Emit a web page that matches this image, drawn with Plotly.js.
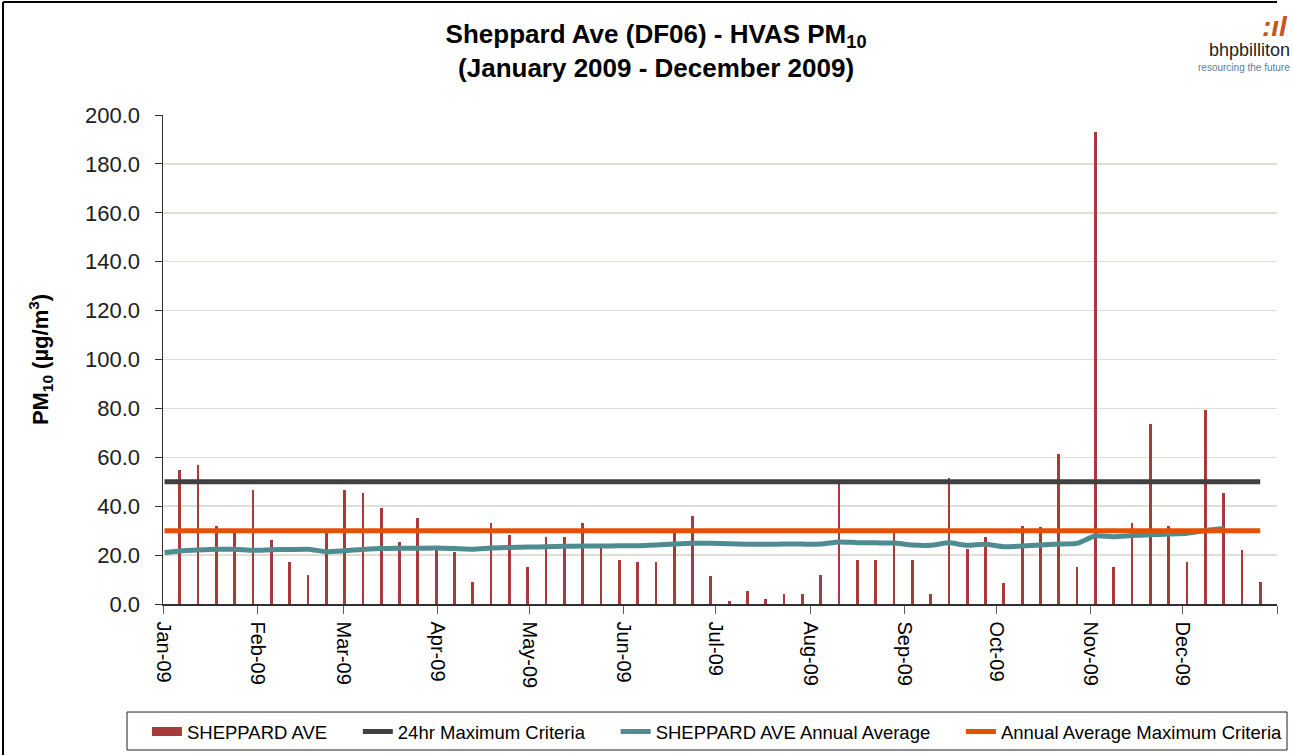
<!DOCTYPE html>
<html>
<head>
<meta charset="utf-8">
<script src="https://cdn.plot.ly/plotly-3.0.1.min.js"></script>
<style>
html,body{margin:0;padding:0;background:#fff;}
#chart{width:1294px;height:755px;}
</style>
</head>
<body>
<div id="chart"></div>
<script>
// Sample dates (HVAS 1-in-6 day schedule)
var sampleDates = [
 '2009-01-06','2009-01-12','2009-01-18','2009-01-24','2009-01-30',
 '2009-02-05','2009-02-11','2009-02-17','2009-02-23','2009-03-01',
 '2009-03-07','2009-03-13','2009-03-19','2009-03-25','2009-03-31',
 '2009-04-06','2009-04-12','2009-04-18','2009-04-24','2009-04-30',
 '2009-05-06','2009-05-12','2009-05-18','2009-05-24','2009-05-30',
 '2009-06-05','2009-06-11','2009-06-17','2009-06-23','2009-06-29',
 '2009-07-05','2009-07-11','2009-07-17','2009-07-23','2009-07-29',
 '2009-08-04','2009-08-10','2009-08-16','2009-08-22','2009-08-28',
 '2009-09-03','2009-09-09','2009-09-15','2009-09-21','2009-09-27',
 '2009-10-03','2009-10-09','2009-10-15','2009-10-21','2009-10-27',
 '2009-11-02','2009-11-08','2009-11-14','2009-11-20','2009-11-26',
 '2009-12-02','2009-12-08','2009-12-14','2009-12-20','2009-12-26'
];
// PM10 24-hr values (µg/m³)
var pm10 = [
 55, 57, 32, 29, 46.5, 26, 17.3, 12, 29, 46.5,
 45.4, 39.3, 25.2, 35, 22.1, 21.1, 9.1, 33.3, 28.2, 15.1,
 27.3, 27.3, 33.3, 22.8, 18.1, 17.3, 17.3, 29.5, 36.1, 11.3,
 1.1, 5.2, 2.2, 4.1, 4.1, 12.0, 50, 18.1, 18.1, 29.5,
 18.1, 4.0, 51.4, 22.4, 27.3, 8.4, 32.0, 31.3, 61.2, 15.0,
 192.9, 15.0, 33.3, 73.5, 32.0, 17.3, 79.3, 45.3, 22.2, 9.0
];
// Running annual average
var avgDates = ['2009-01-01'].concat(sampleDates.slice(0, 58));
var annualAvg = [
 21.1,
 21.7, 22.1, 22.4, 22.4, 22.0, 22.2, 22.3, 22.4, 21.4, 21.8,
 22.3, 22.7, 22.8, 22.8, 22.9, 22.7, 22.4, 22.9, 23.1, 23.3,
 23.4, 23.6, 23.7, 23.7, 23.8, 23.8, 24.1, 24.5, 24.8, 24.8,
 24.6, 24.4, 24.4, 24.5, 24.5, 24.5, 25.4, 25.1, 25.0, 24.9,
 24.1, 24.0, 25.0, 24.0, 24.4, 23.4, 23.7, 24.1, 24.5, 24.8,
 27.9, 27.5, 28.0, 28.3, 28.6, 28.9, 30.1, 30.9
];
// Criteria
var criteriaDates = ['2009-01-01', '2009-12-26'];
var crit24hr = [50, 50];
var critAnnual = [30, 30];
// Axis ticks
var monthTicks = ['2009-01-01','2009-02-01','2009-03-01','2009-04-01','2009-05-01','2009-06-01',
 '2009-07-01','2009-08-01','2009-09-01','2009-10-01','2009-11-01','2009-12-01','2010-01-01'];
var monthLabels = ['Jan-09','Feb-09','Mar-09','Apr-09','May-09','Jun-09',
 'Jul-09','Aug-09','Sep-09','Oct-09','Nov-09','Dec-09',''];

var DAY = 86400000;
var NB = '\u00a0\u00a0\u00a0\u00a0\u00a0';
var barColor = '#A93A3A';
var traces = [
 {type:'bar', name:'SHEPPARD AVE', x:sampleDates, y:pm10, showlegend:false,
  xperiod:DAY, xperiodalignment:'middle', width:0.9*DAY,
  marker:{color:barColor, line:{width:0}}},
 {type:'scatter', mode:'lines', name:'SHEPPARD AVE' + NB, x:[null], y:[null],
  line:{color:barColor, width:9}},
 {type:'scatter', mode:'lines', name:'24hr Maximum Criteria' + NB, x:criteriaDates, y:crit24hr,
  xperiod:DAY, xperiodalignment:'middle',
  line:{color:'#404040', width:5}},
 {type:'scatter', mode:'lines', name:'SHEPPARD AVE Annual Average' + NB, x:avgDates, y:annualAvg,
  xperiod:DAY, xperiodalignment:'middle',
  line:{color:'#4F8C91', width:5, shape:'spline', smoothing:0.5}},
 {type:'scatter', mode:'lines', name:'Annual Average Maximum Criteria', x:criteriaDates, y:critAnnual,
  xperiod:DAY, xperiodalignment:'middle',
  line:{color:'#E65100', width:5}}
];

var layout = {
 width:1294, height:755,
 margin:{l:163, r:17, t:115, b:151, autoexpand:false},
 paper_bgcolor:'#ffffff', plot_bgcolor:'#ffffff',
 font:{family:'Liberation Sans, Arial, sans-serif', color:'#000'},
 showlegend:true,
 bargap:0,
 title:{
  text:'<b>Sheppard Ave (DF06) - HVAS PM<sub>10</sub></b><br><b>(January 2009 - December 2009)</b>',
  font:{size:26, color:'#000'},
  xref:'container', x:0.507, xanchor:'center',
  yref:'container', y:0.943, yanchor:'top'
 },
 xaxis:{
  type:'date', range:['2009-01-01','2010-01-01'],
  tickmode:'array', tickvals:monthTicks, ticktext:monthLabels, tickangle:90,
  ticks:'outside', ticklen:8, tickcolor:'#606060', tickwidth:1,
  ticklabelstandoff:4,
  showline:true, linecolor:'#303030', linewidth:1.5,
  showgrid:false, zeroline:false, automargin:false,
  tickfont:{size:20, color:'#000'}, fixedrange:true
 },
 yaxis:{
  range:[0,200], dtick:20, tick0:0, tickformat:'.1f',
  ticks:'outside', ticklen:7, tickcolor:'#303030', tickwidth:1,
  ticklabelstandoff:10,
  showline:true, linecolor:'#303030', linewidth:1.5,
  showgrid:true, gridcolor:'#DEDDD6', gridwidth:1.5, zeroline:false,
  tickfont:{size:22, color:'#202020'},
  title:{text:'<b>PM<sub>10</sub> (µg/m<sup>3</sup>)</b>', font:{size:22, color:'#000'}, standoff:30},
  automargin:false, fixedrange:true
 },
 legend:{
  orientation:'h', x:-0.0144, xanchor:'left', y:-0.2229, yanchor:'top',
  borderwidth:0, bgcolor:'rgba(0,0,0,0)',
  font:{size:18.5, color:'#000'}, traceorder:'normal', itemwidth:30
 },
 shapes:[
  {type:'line', xref:'paper', yref:'paper', x0:-0.1436, x1:1.0, y0:1.231, y1:1.231, line:{color:'#000', width:2}},
  {type:'line', xref:'paper', yref:'paper', x0:-0.1436, x1:-0.1436, y0:1.231, y1:-0.31, line:{color:'#000', width:2}},
  {type:'rect', xref:'paper', yref:'paper', x0:-0.0323, x1:1.009, y0:-0.2209, y1:-0.2986, line:{color:'#202020', width:1}, fillcolor:'rgba(0,0,0,0)'}
 ],
 annotations:[
  {xref:'paper', yref:'paper', x:1.0115, y:1.18, xanchor:'right', yanchor:'middle', showarrow:false,
   text:'<b><i>:ıl</i></b>', font:{size:28, color:'#C4561E'}},
  {xref:'paper', yref:'paper', x:1.0135, y:1.133, xanchor:'right', yanchor:'middle', showarrow:false,
   text:'bhpbilliton', font:{size:18, color:'#222'}},
  {xref:'paper', yref:'paper', x:1.0135, y:1.098, xanchor:'right', yanchor:'middle', showarrow:false,
   text:'resourcing the future', font:{size:10, color:'#5A7FA0'}}
 ]
};

Plotly.newPlot('chart', traces, layout, {displayModeBar:false, staticPlot:true});
</script>
</body>
</html>
